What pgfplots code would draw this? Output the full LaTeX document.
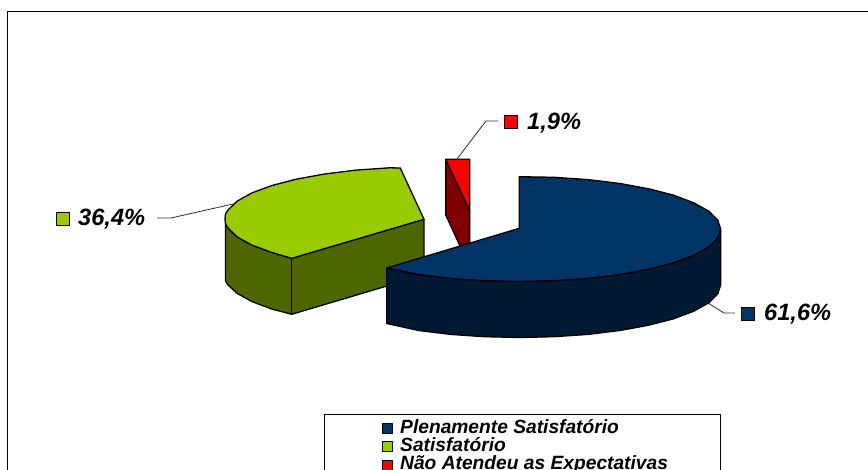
\documentclass[border=0pt]{standalone}
\usepackage{pgfplots}
\pgfplotsset{compat=1.18}
\usepackage{fontspec}
\setmainfont{Liberation Sans}
\definecolor{bluetop}{HTML}{003366}
\definecolor{blueside}{HTML}{001933}
\definecolor{greentop}{HTML}{99CC00}
\definecolor{greenside}{HTML}{4D6600}
\definecolor{redtop}{HTML}{FF0000}
\definecolor{redside}{HTML}{800000}
\definecolor{lead}{HTML}{303030}
\begin{document}
\begin{tikzpicture}[x=1pt,y=1pt]
\path[use as bounding box,clip] (0,0) rectangle (868,470);
\begin{axis}[
  at={(0,0)},anchor=south west,
  width=868pt,height=470pt,scale only axis,
  xmin=0,xmax=868,ymin=0,ymax=470,y dir=reverse,
  hide axis,clip=false,
  every axis plot/.append style={line join=round}]
% frame
\addplot[black,line width=1.3pt] coordinates {(7.5,475) (7.5,11.5) (875,11.5)};
% leader lines
\addplot[lead,line width=0.8pt] coordinates {(157,218) (171,218) (233,204)};
\addplot[lead,line width=0.8pt] coordinates {(457,159) (486,121) (498,121)};
\addplot[lead,line width=0.8pt] coordinates {(708,303) (724,313) (735,313)};
% red slice: side, top
\addplot[fill=redside,draw=black,line width=1.3pt] coordinates {(445.7,159.3) (469.7,210.7) (469.7,267) (445.7,215)} --cycle;
\addplot[fill=redtop,draw=black,line width=1.3pt] coordinates {(445.7,159.3) (469.7,159.3) (469.7,210.7)} --cycle;
% green slice: side, top
\addplot[fill=greenside,draw=black,line width=1.3pt] coordinates {(225.5,224) (228,228) (237,236.8) (251.7,245) (271.6,252.4) (291.7,258.3) (424,219.3) (424,275) (291.7,314.3) (271.6,309) (251.7,301.5) (237,293.3) (228,285) (225.5,281)} --cycle;
\addplot[black,line width=1.3pt] coordinates {(291.7,258.3) (291.7,314.3)};
\addplot[fill=greentop,draw=black,line width=1.3pt] coordinates {(400.3,168) (424,219.3) (291.7,258.3) (271.6,252.4) (251.7,245) (237,236.8) (228,228) (225.5,224) (225,219) (225.5,214) (228,210) (237,201.2) (251.7,193) (271.6,185.6) (296.2,179.2) (324.7,174) (356.1,170.1) (389.7,167.8)} --cycle;
% blue slice: side, top
\addplot[fill=blueside,draw=black,line width=1.3pt] coordinates {(386.7,268) (418.6,274.5) (450.4,278.4) (484.3,280.7) (519.3,281.5) (554.3,280.7) (588.2,278.4) (620,274.5) (648.8,269.2) (673.6,262.8) (693.7,255.25) (708.6,247) (717.7,238.1) (720.7,229) (720.7,285) (717.7,294.1) (708.6,303) (693.7,311.25) (673.6,318.8) (648.8,325.2) (620,330.5) (588.2,334.4) (554.3,336.7) (519.3,337.5) (484.3,336.7) (450.4,334.4) (418.6,330.5) (386.7,323.5)} --cycle;
\addplot[fill=bluetop,draw=black,line width=1.3pt] coordinates {(519.3,176.7) (519.3,228.3) (386.7,268) (418.6,274.5) (450.4,278.4) (484.3,280.7) (519.3,281.5) (554.3,280.7) (588.2,278.4) (620,274.5) (648.8,269.2) (673.6,262.8) (693.7,255.25) (708.6,247) (717.7,238.1) (720.7,229) (717.7,219.9) (708.6,211) (693.7,202.75) (673.6,195.2) (648.8,188.8) (620,183.5) (588.2,179.6) (554.3,177.3)} --cycle;
% data label keys
\addplot[only marks,mark=square*,mark size=6.6pt,mark options={fill=greentop,draw=black,line width=1pt}] coordinates {(63,219)};
\addplot[only marks,mark=square*,mark size=6.6pt,mark options={fill=redtop,draw=black,line width=1pt}] coordinates {(511.3,122.3)};
\addplot[only marks,mark=square*,mark size=6.6pt,mark options={fill=bluetop,draw=black,line width=1pt}] coordinates {(748.3,314)};
% legend box
\addplot[draw=black,line width=0.9pt] coordinates {(324.3,476) (324.3,414) (720.7,414) (720.7,476)};
\addplot[only marks,mark=square*,mark size=5pt,mark options={fill=bluetop,draw=black,line width=0.9pt}] coordinates {(387.2,428.5)};
\addplot[only marks,mark=square*,mark size=5pt,mark options={fill=greentop,draw=black,line width=0.9pt}] coordinates {(387.2,446.5)};
\addplot[only marks,mark=square*,mark size=5pt,mark options={fill=redtop,draw=black,line width=0.9pt}] coordinates {(387.2,465)};
% texts
\node[anchor=base west,inner sep=0pt,font=\fontsize{23.6}{24}\selectfont\bfseries\itshape] at (axis cs:78,226) {36,4\%};
\node[anchor=base west,inner sep=0pt,font=\fontsize{23.6}{24}\selectfont\bfseries\itshape] at (axis cs:527,130) {1,9\%};
\node[anchor=base west,inner sep=0pt,font=\fontsize{23.6}{24}\selectfont\bfseries\itshape] at (axis cs:764,321) {61,6\%};
\node[anchor=base west,inner sep=0pt,font=\fontsize{19.2}{20}\selectfont\bfseries\itshape] at (axis cs:400,433) {Plenamente Satisfatório};
\node[anchor=base west,inner sep=0pt,font=\fontsize{19.2}{20}\selectfont\bfseries\itshape] at (axis cs:400,451.5) {Satisfatório};
\node[anchor=base west,inner sep=0pt,font=\fontsize{19.2}{20}\selectfont\bfseries\itshape] at (axis cs:400,469) {Não Atendeu as Expectativas};
\end{axis}
\end{tikzpicture}
\end{document}
